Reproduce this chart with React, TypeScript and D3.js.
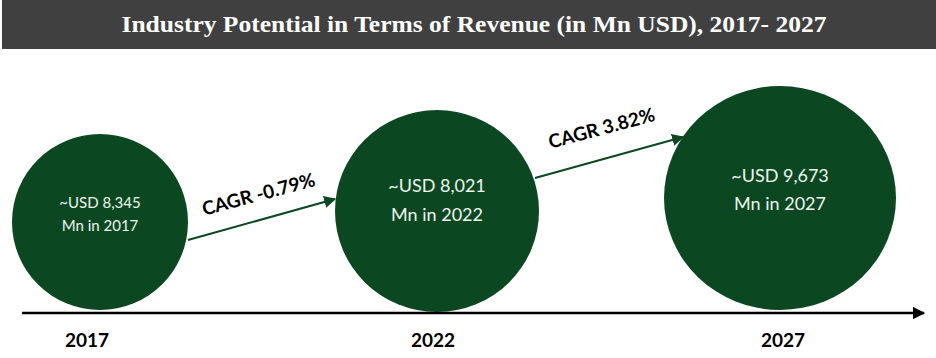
import React from "react";
import * as d3 from "d3";

const years = ["2017", "2022", "2027"];
const values = [8345, 8021, 9673];
const cagrLabels = ["CAGR -0.79%", "CAGR 3.82%"];
const title = "Industry Potential in Terms of Revenue (in Mn USD), 2017- 2027";

const W = 936;
const H = 358;
const GREEN = "#0b4822";

export default function App() {
  const x = d3.scalePoint<string>().domain(years).range([100, 780]);
  // layout sizes for bubbles (visual, not proportional)
  const rx = [88, 102, 116];
  const ry = [88, 101, 112];
  const cy = [222, 211, 198];
  const textBase = [208, 192, 182];
  const textSize = [15, 18, 18];
  const lineGap = [23, 29, 28];
  const fmt = d3.format(",");
  const axisY = 313;

  const arrows = [
    { x1: 188, y1: 240, x2: 335, y2: 199, lx: 259, ly: 196 },
    { x1: 535, y1: 178, x2: 683, y2: 137, lx: 602, ly: 130 },
  ];

  return (
    <svg width={W} height={H} style={{ position: "absolute", left: 0, top: 0 }}>
      <defs>
        <marker id="ah" viewBox="0 0 10 10" refX="9" refY="5" markerWidth="6" markerHeight="6" orient="auto">
          <path d="M0,0 L10,5 L0,10 z" fill={GREEN} />
        </marker>
        <marker id="ax" viewBox="0 0 10 10" refX="9" refY="5" markerWidth="5" markerHeight="5" orient="auto">
          <path d="M0,0 L10,5 L0,10 z" fill="#000" />
        </marker>
      </defs>
      <rect x={0} y={0} width={W} height={H} fill="#fff" />
      <rect x={2} y={0} width={W - 2} height={49} fill="#404040" />
      <text
        x={474}
        y={32}
        textAnchor="middle"
        fill="#fff"
        fontFamily="'Liberation Serif', serif"
        fontWeight="bold"
        fontSize={24}
        textLength={705}
        lengthAdjust="spacingAndGlyphs"
      >
        {title}
      </text>

      {years.map((y, i) => (
        <ellipse key={"c" + y} cx={x(y)! - (i === 1 ? 3 : 0)} cy={cy[i]} rx={rx[i]} ry={ry[i]} fill={GREEN} />
      ))}

      {years.map((y, i) => (
        <g key={"t" + y} fill="#eef5ee" fontFamily="Lato, 'Open Sans', sans-serif" fontSize={textSize[i]} textAnchor="middle">
          <text x={x(y)! - (i === 1 ? 3 : 0)} y={textBase[i]}>{"~USD " + fmt(values[i])}</text>
          <text x={x(y)! - (i === 1 ? 3 : 0)} y={textBase[i] + lineGap[i]}>{"Mn in " + y}</text>
        </g>
      ))}

      {arrows.map((a, i) => (
        <g key={"a" + i}>
          <line x1={a.x1} y1={a.y1} x2={a.x2} y2={a.y2} stroke={GREEN} strokeWidth={2} markerEnd="url(#ah)" />
          <text
            x={a.lx}
            y={a.ly}
            textAnchor="middle"
            dominantBaseline="middle"
            fontFamily="Lato, 'Open Sans', sans-serif"
            fontWeight="bold"
            fontSize={19}
            fill="#000"
            transform={`rotate(-15 ${a.lx} ${a.ly})`}
          >
            {cagrLabels[i]}
          </text>
        </g>
      ))}

      <line x1={22} y1={axisY} x2={924} y2={axisY} stroke="#000" strokeWidth={2.5} markerEnd="url(#ax)" />

      {years.map((y, i) => (
        <text
          key={"y" + y}
          x={[87, 433, 783][i]}
          y={347}
          textAnchor="middle"
          fontFamily="Lato, 'Open Sans', sans-serif"
          fontWeight="bold"
          fontSize={19}
          fill="#000"
        >
          {y}
        </text>
      ))}
    </svg>
  );
}
